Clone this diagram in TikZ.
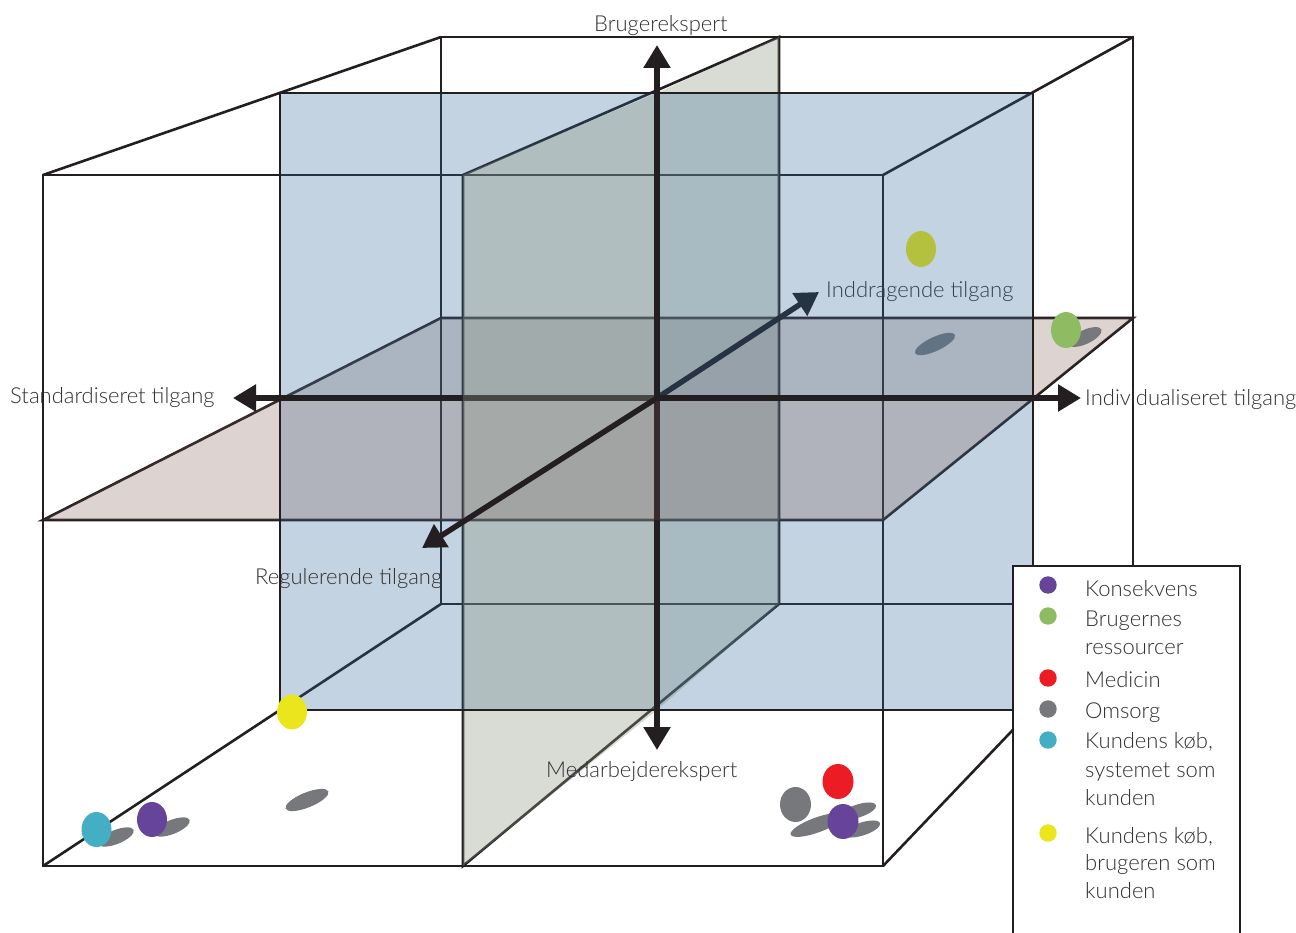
\documentclass[tikz,border=0pt]{standalone}
\usepackage{fontspec}
\setmainfont{Lato Light}
\usetikzlibrary{arrows.meta}
\definecolor{ink}{HTML}{231F20}
\definecolor{txt}{HTML}{303030}
\definecolor{bluec}{RGB}{48,103,152}
\definecolor{greenc}{RGB}{143,152,129}
\definecolor{pinkc}{RGB}{120,84,76}
\definecolor{cpurple}{HTML}{65449A}
\definecolor{cgreen}{HTML}{8FBC62}
\definecolor{cred}{HTML}{ED1C24}
\definecolor{cgray}{HTML}{76787B}
\definecolor{ccyan}{HTML}{43AEC4}
\definecolor{cyellow}{HTML}{EBE61B}
\definecolor{cshadow}{HTML}{77787C}
\tikzset{
  edge/.style={draw=ink, line width=2.6pt},
  bluep/.style={fill=bluec, fill opacity=0.29},
  greenp/.style={fill=greenc, fill opacity=0.34},
  pinkp/.style={fill=pinkc, fill opacity=0.25},
  axis/.style={draw=ink, line width=5.5pt, -{Triangle[length=23pt,width=26pt]}},
  lbl/.style={inner sep=0pt, anchor=base west, text=txt, font=\fontsize{22}{26}\selectfont},
  leg/.style={inner sep=0pt, anchor=base west, text=txt, font=\fontsize{22}{26}\selectfont},
}
\begin{document}
\begin{tikzpicture}[x=1pt,y=-1pt]
\useasboundingbox (0,0) rectangle (1296,933);
% key points
\coordinate (FTL) at (43,175);  \coordinate (FTR) at (883,175);
\coordinate (FBR) at (883,866); \coordinate (FBL) at (43,866);
\coordinate (FTM) at (463,175); \coordinate (FBM) at (463,866);
\coordinate (FML) at (43,520);  \coordinate (FMR) at (883,520);
\coordinate (FC) at (463,520);
\coordinate (BTL) at (441,37);  \coordinate (BTR) at (1133,37);
\coordinate (BBR) at (1133,604); \coordinate (BBL) at (441,604);
\coordinate (BTM) at (779,37);  \coordinate (BBM) at (779,604);
\coordinate (BML) at (441,318); \coordinate (BMR) at (1133,318);
\coordinate (BC) at (779,318);
\coordinate (MTL) at (280,93);  \coordinate (MTR) at (1033,93);
\coordinate (MBR) at (1033,710); \coordinate (MBL) at (280,710);
\coordinate (MTM) at (657,93);  \coordinate (MBM) at (657,710);
\coordinate (MML) at (280,398); \coordinate (MMR) at (1033,398);
\coordinate (C) at (657,398);
% axis tips
\coordinate (Tup) at (657,45);   \coordinate (Tdown) at (657,750);
\coordinate (Tleft) at (233,398); \coordinate (Tright) at (1081,398);
\coordinate (Tfront) at (422,548); \coordinate (Tback) at (819,292);

% thin frame lines (under the planes)
\draw[edge] (FTL) rectangle (FBR);
\draw[edge] (BTL) rectangle (BBR);
\draw[edge] (FTL) -- (BTL);
\draw[edge] (FTR) -- (BTR);
\draw[edge] (FBL) -- (BBL);
\draw[edge] (FBR) -- (BBR);
\draw[edge] (FTM) -- (BTM) -- (BBM) -- (FBM) -- cycle;
\draw[edge] (FML) -- (FMR) -- (BMR) -- (BML) -- cycle;

% planes, back to front
\fill[greenp] (C) -- (BC) -- (BBM) -- (MBM) -- cycle;
\fill[pinkp] (MML) -- (C) -- (BC) -- (BML) -- cycle;
\fill[bluep] (MML) -- (C) -- (MBM) -- (MBL) -- cycle;

\fill[greenp] (FC) -- (C) -- (MBM) -- (FBM) -- cycle;
\fill[greenp] (MTM) -- (BTM) -- (BC) -- (C) -- cycle;
\fill[pinkp] (FML) -- (FC) -- (C) -- (MML) -- cycle;
\fill[pinkp] (C) -- (MMR) -- (BMR) -- (BC) -- cycle;
\fill[bluep] (MTL) -- (MTM) -- (C) -- (MML) -- cycle;
\fill[bluep] (C) -- (MMR) -- (MBR) -- (MBM) -- cycle;

% hidden halves of the axes and the far dot
\draw[axis] (C) -- (Tdown);
\draw[axis] (C) -- (Tleft);
\draw[axis] (C) -- (Tback);
\fill[cshadow, rotate around={25:(935,344)}] (935,344) ellipse [x radius=22, y radius=7];
\fill[cyellow] (921,249) ellipse [x radius=15, y radius=18];
\node[lbl] (lInd) at (826,298) {Inddragende tilgang};

\fill[greenp] (FTM) -- (MTM) -- (C) -- (FC) -- cycle;
\fill[pinkp] (FC) -- (FMR) -- (MMR) -- (C) -- cycle;
\fill[bluep] (MTM) -- (MTR) -- (MMR) -- (C) -- cycle;

% blue frame and visible axes
\draw[edge] (MTL) rectangle (MBR);
\draw[axis] (C) -- (Tup);
\draw[axis] (C) -- (Tright);
\draw[axis] (C) -- (Tfront);

% dots and shadows
\fill[cshadow, rotate around={22:(307,800)}] (307,800) ellipse [x radius=23, y radius=7.5];
\fill[cshadow, rotate around={22:(116,837)}] (116,837) ellipse [x radius=19, y radius=7];
\fill[cshadow, rotate around={22:(172,827)}] (172,827) ellipse [x radius=19, y radius=7];
\fill[ccyan] (96.5,829.5) ellipse [x radius=15, y radius=17.5];
\fill[cpurple] (152,819.5) ellipse [x radius=15, y radius=17.5];
\fill[cyellow] (292,712) ellipse [x radius=15, y radius=17.5];
\fill[cshadow, rotate around={25:(1085,337)}] (1085,337) ellipse [x radius=18, y radius=7];
\fill[cgreen] (1066,330) ellipse [x radius=15, y radius=18];
\fill[cshadow, rotate around={20:(817,825)}] (817,825) ellipse [x radius=28, y radius=7.5];
\fill[cshadow, rotate around={18:(858,811)}] (858,811) ellipse [x radius=19, y radius=6.5];
\fill[cshadow, rotate around={18:(862,829)}] (862,829) ellipse [x radius=19, y radius=6.5];
\fill[cgray] (795.5,804.5) ellipse [x radius=15.5, y radius=17.5];
\fill[cred] (838,781.5) ellipse [x radius=15.5, y radius=17.5];
\fill[cpurple] (843,821.5) ellipse [x radius=15.5, y radius=17.5];

% axis labels
\node[lbl] (lBru) at (594,32) {Brugerekspert};
\node[lbl] (lStd) at (10,403) {Standardiseret tilgang};
\node[lbl] (lIndiv) at (1085,405) {Individualiseret tilgang};
\node[lbl] (lReg) at (255,584) {Regulerende tilgang};
\node[lbl] (lMed) at (546,777) {Medarbejderekspert};

% legend
\draw[edge, fill=white] (1013,566) rectangle (1240,960);
\fill[cpurple] (1048,585) circle [radius=8.7];
\fill[cgreen] (1048,616) circle [radius=8.7];
\fill[cred] (1048,678) circle [radius=8.7];
\fill[cgray] (1048,709) circle [radius=8.7];
\fill[ccyan] (1048,740) circle [radius=8.7];
\fill[cyellow] (1048,833) circle [radius=8.7];
\node[leg] (g1) at (1085,596) {Konsekvens};
\node[leg] (g2) at (1085,626.5) {Brugernes};
\node[leg] (g3) at (1085,654) {ressourcer};
\node[leg] (g4) at (1085,687) {Medicin};
\node[leg] (g5) at (1085,718) {Omsorg};
\node[leg] (g6) at (1085,748) {Kundens køb,};
\node[leg] (g7) at (1085,777) {systemet som};
\node[leg] (g8) at (1085,805) {kunden};
\node[leg] (g9) at (1085,843) {Kundens køb,};
\node[leg] (g10) at (1085,870) {brugeren som};
\node[leg] (g11) at (1085,898) {kunden};
\end{tikzpicture}
\end{document}
